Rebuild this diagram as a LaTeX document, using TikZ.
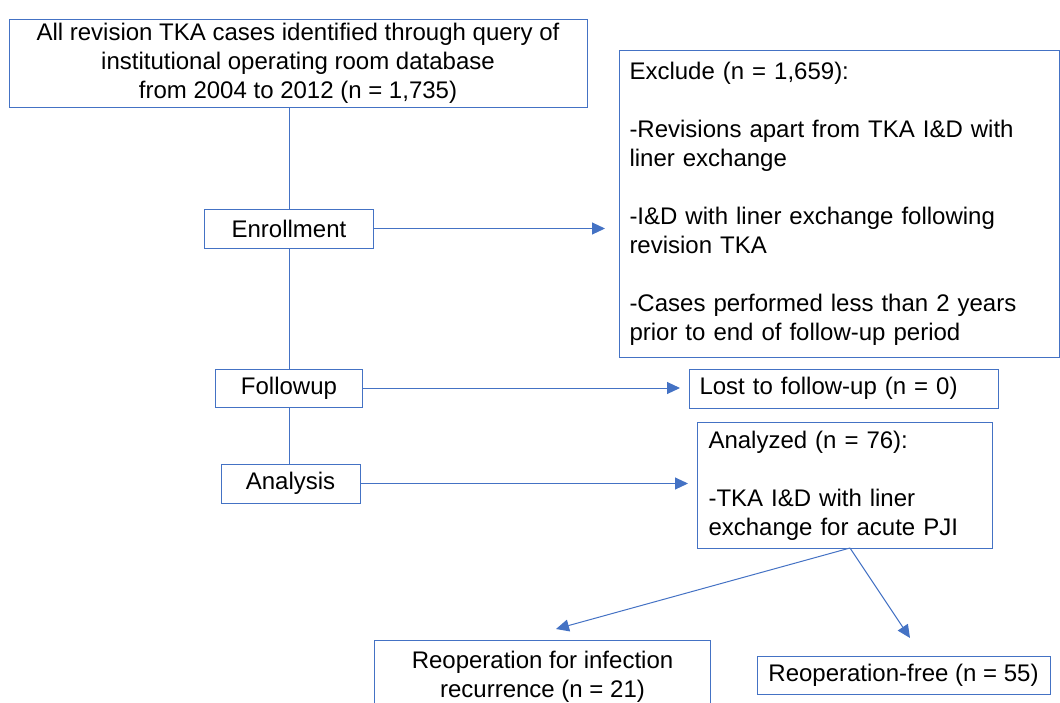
\documentclass[tikz,border=0pt]{standalone}
\usepackage{fontspec}
\setmainfont{Liberation Sans}
\usetikzlibrary{arrows.meta}
\definecolor{boxblue}{HTML}{4472C4}
\begin{document}
\begin{tikzpicture}[x=1pt,y=-1pt,>={Triangle[length=13pt,width=12pt]},
	box/.style={draw=boxblue,line width=1pt,inner sep=0pt,font=\fontsize{24}{29}\selectfont},
	line/.style={draw=boxblue,line width=1pt}]
		\useasboundingbox (0,0) rectangle (1060,702);
		\node[box,minimum width=578pt,minimum height=88pt,align=center] (query) at (298,63)
			{All revision TKA cases identified through query of\\institutional operating room database\\from 2004 to 2012 (n = 1,735)};
		\node[box,minimum width=169pt,minimum height=39pt] (enroll) at (289,228.5) {Enrollment};
		\node[box,anchor=north west,minimum width=440pt,minimum height=307pt,text width=420pt,inner xsep=10pt,align=left] (exclude) at (619,50)
			{Exclude (n = 1,659):\\[29pt]-Revisions apart from TKA I\&D with\\liner exchange\\[29pt]-I\&D with liner exchange following\\revision TKA\\[29pt]-Cases performed less than 2 years\\prior to end of follow-up period};
		\node[box,minimum width=147pt,minimum height=38pt] (follow) at (289,388) {Followup};
		\node[box,anchor=west,minimum width=309pt,minimum height=39pt,text width=289pt,inner xsep=10pt,align=left] (lost) at (689,388.5) {Lost to follow-up (n = 0)};
		\node[box,minimum width=139pt,minimum height=39pt] (analysis) at (290.5,483.5) {Analysis};
		\node[box,anchor=north west,minimum width=295pt,minimum height=126pt,text width=273pt,inner xsep=11pt,align=left] (analyzed) at (697,422)
			{Analyzed (n = 76):\\[29pt]-TKA I\&D with liner\\exchange for acute PJI};
		\node[box,anchor=north west,minimum width=336pt,minimum height=72pt,align=center] (reinf) at (374,640)
			{Reoperation for infection\\recurrence (n = 21)};
		\node[box,minimum width=293pt,minimum height=38pt] (refree) at (903.5,675) {Reoperation-free (n = 55)};
		\coordinate (split) at (850,548);
		\coordinate (tipinf) at (556,629);
		\coordinate (tipfree) at (910,638);
		% main column
		\draw[line] (enroll.north |- query.south) -- (enroll.north);
		\draw[line] (enroll.south) -- (follow.north);
		\draw[line] (follow.south) -- (follow.south |- analysis.north);
		% side arrows
		\draw[line,->,shorten >=14pt] (enroll.east) -- (enroll.east -| exclude.west);
		\draw[line,->,shorten >=9pt] (follow.east) -- (follow.east -| lost.west);
		\draw[line,->,shorten >=9pt] (analysis.east) -- (analysis.east -| analyzed.west);
		\draw[line,->] (split) -- (tipinf);
		\draw[line,->] (split) -- (tipfree);
\end{tikzpicture}
\end{document}
